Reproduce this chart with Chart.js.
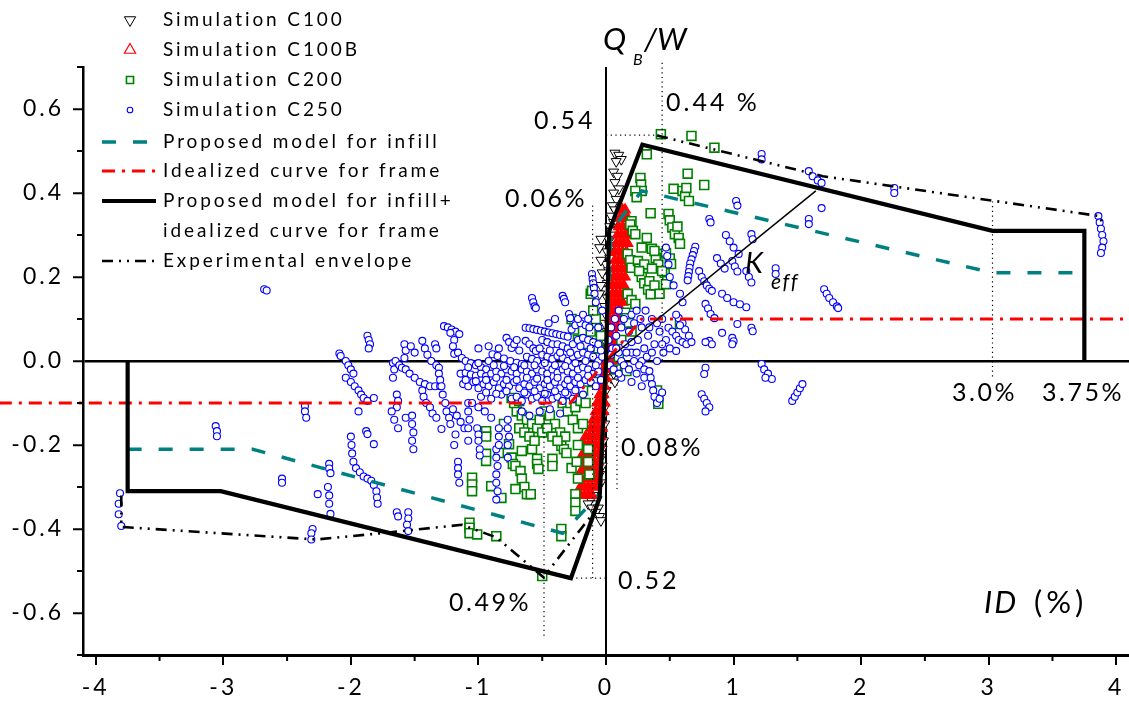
<!DOCTYPE html>
<html><head><meta charset="utf-8">
<script src="https://cdn.jsdelivr.net/npm/chart.js@4.4.0/dist/chart.umd.min.js"></script>
<style>html,body{margin:0;padding:0;background:#fff;}canvas{display:block;}</style>
</head><body>
<canvas id="c" width="1129" height="702"></canvas>
<script>
// ---------------- DATA ----------------
const xTicks = [-4,-3,-2,-1,0,1,2,3,4];
const yTicks = [-0.6,-0.4,-0.2,0,0.2,0.4,0.6];
const xMinor = [-3.5,-2.5,-1.5,-0.5,0.5,1.5,2.5,3.5];
const yMinor = [-0.7,-0.5,-0.3,-0.1,0.1,0.3,0.5,0.7];

// Simulation C250 (blue circles)
const c250 = [
[-3.81,-0.315],[-3.82,-0.34],[-3.82,-0.365],[-3.80,-0.393],
[-3.06,-0.155],[-3.05,-0.167],[-3.05,-0.179],
[-2.68,0.171],[-2.66,0.168],
[-2.54,-0.28],[-2.54,-0.29],
[-2.36,-0.107],[-2.36,-0.12],[-2.35,-0.135],
[-2.30,-0.40],[-2.31,-0.41],[-2.31,-0.425],
[-2.26,-0.317],
[-2.17,-0.245],[-2.17,-0.256],[-2.16,-0.267],
[-2.18,-0.30],[-2.17,-0.32],[-2.17,-0.34],[-2.16,-0.364],
[-2.09,0.018],[-2.08,0.012],
[-2.04,0.0],[-2.02,-0.01],[-2.0,-0.02],[-1.98,-0.03],
[-2.04,-0.04],[-2.0,-0.05],[-1.97,-0.06],[-1.94,-0.07],[-1.92,-0.08],[-1.9,-0.088],[-1.87,-0.095],
[-1.87,0.06],[-1.86,0.05],[-1.85,0.04],[-1.86,0.03],
[-1.82,-0.088],[-1.94,-0.12],[-1.88,-0.167],[-1.87,-0.174],[-1.82,-0.198],
[-2.0,-0.18],[-1.995,-0.2],[-1.99,-0.22],[-1.98,-0.24],[-1.96,-0.255],[-1.93,-0.265],[-1.9,-0.275],[-1.87,-0.28],[-1.84,-0.285],[-1.82,-0.295],[-1.8,-0.31],[-1.795,-0.325],[-1.79,-0.34],
[-1.67,-0.005],[-1.66,-0.02],[-1.67,-0.04],
[-1.65,0.0],[-1.62,-0.01],[-1.6,-0.016],
[-1.58,0.04],[-1.57,0.025],[-1.58,0.007],[-1.53,0.035],[-1.5,0.02],
[-1.64,-0.08],[-1.63,-0.095],[-1.64,-0.11],
[-1.68,-0.12],[-1.66,-0.14],[-1.63,-0.16],
[-1.57,-0.135],
[-1.64,-0.36],[-1.63,-0.37],
[-1.55,-0.36],[-1.55,-0.375],[-1.56,-0.39],[-1.55,-0.405],
[-1.52,-0.13],[-1.52,-0.15],[-1.51,-0.17],[-1.52,-0.19],[-1.51,-0.21],
[-1.57,-0.02],[-1.54,-0.03],[-1.5,-0.04],[-1.46,-0.05],[-1.42,-0.055],[-1.38,-0.06],[-1.34,-0.06],[-1.3,-0.06],
[-1.44,-0.07],[-1.43,-0.085],[-1.41,-0.1],[-1.38,-0.11],[-1.36,-0.125],[-1.33,-0.135],
[-1.44,0.048],[-1.42,0.03],[-1.4,0.015],[-1.37,0.0],[-1.33,-0.01],[-1.31,-0.016],
[-1.34,0.04],[-1.33,0.03],
[-1.27,0.083],[-1.24,0.08],[-1.21,0.075],[-1.18,0.07],[-1.15,0.064],
[-1.22,0.067],[-1.19,0.05],[-1.2,0.035],[-1.19,0.017],[-1.16,0.02],
[-1.31,-0.03],[-1.3,-0.045],[-1.29,-0.06],[-1.28,-0.08],[-1.26,-0.1],[-1.25,-0.12],[-1.23,-0.135],[-1.22,-0.15],
[-1.2,-0.115],[-1.17,-0.13],[-1.14,-0.145],[-1.11,-0.16],
[-1.29,-0.162],[-1.18,-0.175],[-1.19,-0.2],
[-1.16,-0.24],[-1.16,-0.255],[-1.16,-0.27],[-1.15,-0.29],
[-1.08,-0.10],[-1.08,-0.12],[-1.07,-0.14],[-1.08,-0.16],[-1.08,-0.19],
[-1.01,-0.16],[-1.0,-0.175],[-1.0,-0.19],[-0.99,-0.21],[-0.99,-0.225],
[-0.86,-0.21],[-0.86,-0.23],[-0.85,-0.25],[-0.86,-0.27],[-0.86,-0.29],[-0.85,-0.31],[-0.86,-0.33],
[-0.77,-0.14],[-0.77,-0.16],[-0.76,-0.18],[-0.77,-0.2],[-0.77,-0.23],
[-0.84,-0.16],[-0.84,-0.18],[-0.84,-0.2],
[-0.58,0.15],[-0.57,0.14],[-0.56,0.13],[-0.55,0.126],[-0.34,0.155],[-0.33,0.148],[-0.32,0.14],[-0.29,0.112],[-0.28,0.102],
[-0.11,0.207],[-0.105,0.195],[-0.1,0.185],[-0.095,0.174],[-0.09,0.16],[-0.08,0.14],
[-0.63,0.079],[-0.6,0.078],[-0.57,0.076],[-0.54,0.074],[-0.51,0.072],[-0.48,0.07],[-0.45,0.068],[-0.42,0.066],[-0.39,0.064],[-0.36,0.062],[-0.33,0.06],[-0.3,0.058],[-0.27,0.075],[-0.24,0.085],[-0.2,0.09],[-0.16,0.085],[-0.13,0.08],
[-0.78,0.055],[-0.76,0.045],[-0.74,0.031],[-0.72,0.04],[-0.7,0.05],
[-0.63,0.048],[-0.6,0.04],[-0.57,0.03],[-0.55,0.024],
[-0.5,0.05],[-0.46,0.045],[-0.42,0.04],[-0.38,0.04],[-0.34,0.035],[-0.3,0.03],[-0.26,0.04],[-0.22,0.05],[-0.18,0.055],[-0.14,0.05],[-0.1,0.045],[-0.06,0.04],
[-1.13,0.007],[-1.1,0.0],[-1.06,-0.005],[-1.02,-0.01],[-0.98,-0.015],[-0.94,-0.02],[-0.89,0.016],[-0.85,0.012],[-0.8,0.006],[-0.75,0.0],[-0.7,-0.004],[-0.66,-0.007],[-0.62,0.01],[-0.58,0.005],[-0.54,0.0],[-0.5,0.015],[-0.46,0.01],[-0.42,0.005],[-0.38,0.012],[-0.34,0.008],[-0.3,0.0],[-0.26,0.01],[-0.22,0.015],[-0.18,0.02],[-0.14,0.015],[-0.1,0.01],[-0.06,0.0],[-0.03,0.01],
[-1.14,-0.03],[-1.1,-0.028],[-1.06,-0.032],[-1.02,-0.035],[-0.98,-0.03],[-0.94,-0.036],[-0.9,-0.03],[-0.86,-0.025],[-0.82,-0.03],[-0.78,-0.02],[-0.74,-0.025],[-0.7,-0.03],[-0.66,-0.02],[-0.62,-0.025],[-0.58,-0.03],[-0.54,-0.02],[-0.5,-0.025],[-0.46,-0.03],[-0.42,-0.02],[-0.38,-0.028],[-0.34,-0.02],[-0.3,-0.025],[-0.26,-0.03],[-0.22,-0.02],[-0.18,-0.015],[-0.14,-0.02],[-0.1,-0.03],[-0.06,-0.025],
[-1.12,-0.055],[-1.08,-0.06],[-1.04,-0.05],[-1.0,-0.065],[-0.96,-0.055],[-0.92,-0.06],[-0.88,-0.05],[-0.84,-0.065],[-0.8,-0.055],[-0.76,-0.06],[-0.72,-0.05],[-0.68,-0.065],[-0.64,-0.055],[-0.6,-0.06],[-0.56,-0.05],[-0.52,-0.065],[-0.48,-0.055],[-0.44,-0.06],[-0.4,-0.05],[-0.36,-0.065],[-0.32,-0.055],[-0.28,-0.06],[-0.24,-0.05],[-0.2,-0.055],[-0.16,-0.045],[-0.12,-0.05],[-0.08,-0.06],
[-0.98,-0.085],[-0.9,-0.09],[-0.82,-0.08],[-0.74,-0.09],[-0.7,-0.085],[-0.66,-0.095],[-0.62,-0.08],[-0.58,-0.09],[-0.54,-0.085],[-0.5,-0.095],[-0.46,-0.08],[-0.42,-0.09],[-0.38,-0.085],[-0.34,-0.095],[-0.3,-0.08],[-0.26,-0.09],
[-1.05,-0.10],[-1.0,-0.11],[-0.95,-0.12],[-0.9,-0.135],[-0.66,-0.12],[-0.6,-0.13],[-0.52,-0.12],[-0.44,-0.115],[-0.36,-0.125],
[-1.0,0.03],[-0.92,0.035],[-0.84,0.03],[-0.68,0.025],[-0.52,0.03],[-0.44,0.025],[-0.36,0.02],[-0.28,0.02],[-0.2,0.035],[-0.12,0.03],[-0.04,0.025],
[-1.08,-0.015],[-1.0,-0.005],[-0.92,0.0],[-0.88,-0.01],[-0.8,-0.012],[-0.72,-0.015],[-0.64,-0.01],[-0.56,-0.01],[-0.48,-0.005],[-0.4,-0.01],[-0.32,-0.012],[-0.24,-0.005],[-0.16,0.0],[-0.08,-0.01],
[-1.1,-0.045],[-1.02,-0.048],[-0.94,-0.045],[-0.86,-0.04],[-0.78,-0.045],[-0.7,-0.045],[-0.62,-0.04],[-0.54,-0.042],[-0.46,-0.045],[-0.38,-0.04],[-0.3,-0.045],[-0.22,-0.04],[-0.14,-0.035],[-0.04,-0.045],
[-0.94,-0.075],[-0.86,-0.078],[-0.78,-0.072],[-0.64,-0.075],[-0.56,-0.072],[-0.48,-0.078],[-0.4,-0.072],[-0.32,-0.075],[-0.24,-0.07],[-0.18,-0.08],
[-0.22,0.1],[-0.18,0.11],[-0.14,0.1],[-0.06,0.08],[-0.03,0.12],[-0.45,0.09],[-0.4,0.1],
[0.02,0.05],[0.05,0.03],[0.08,0.06],[0.1,0.02],[0.12,0.08],[0.15,0.04],[0.18,0.07],[0.2,0.02],[0.22,0.09],[0.25,0.05],[0.28,0.08],[0.3,0.03],[0.33,0.06],[0.36,0.1],[0.38,0.04],[0.42,0.07],[0.45,0.02],[0.47,0.05],
[0.04,0.08],[0.07,0.1],[0.1,0.12],[0.14,0.1],[0.2,0.11],[0.24,0.12],[0.27,0.1],[0.31,0.12],[0.34,0.08],[0.4,0.09],[0.44,0.1],
[0.04,0.015],[0.08,0.03],[0.12,0.0],[0.16,0.02],[0.2,0.045],[0.24,0.02],[0.28,0.0],[0.32,0.01],[0.36,0.02],[0.4,0.0],[0.44,0.04],[0.5,0.03],
[0.12,-0.04],[0.2,-0.05],[0.24,-0.03],[0.28,-0.06],[0.3,-0.04],
[0.03,-0.01],[0.06,-0.02],[0.1,-0.03],[0.14,-0.01],[0.18,-0.02],[0.22,0.0],[0.26,-0.01],[0.3,-0.02],
[0.34,-0.024],[0.35,-0.04],[0.36,-0.055],[0.37,-0.07],[0.38,-0.085],[0.4,-0.1],[0.42,-0.09],[0.44,-0.075],
[0.49,0.079],[0.52,0.07],[0.55,0.06],[0.57,0.05],[0.6,0.045],[0.63,0.04],[0.55,0.024],
[0.57,0.102],[0.6,0.09],[0.62,0.075],[0.65,0.06],[0.67,0.045],
[0.78,0.136],[0.8,0.125],[0.82,0.112],[0.85,0.102],
[0.81,0.048],[0.83,0.04],[0.78,0.045],
[0.91,0.067],[0.99,0.055],[1.0,0.047],[0.99,0.04],
[0.78,-0.016],[0.77,-0.031],
[1.22,-0.007],[1.24,-0.02],[1.27,-0.03],[1.3,-0.043],[1.25,-0.04],
[1.46,-0.095],[1.48,-0.085],[1.5,-0.075],[1.52,-0.065],[1.54,-0.055],
[0.75,-0.079],[0.77,-0.09],[0.79,-0.1],[0.81,-0.11],[0.78,-0.12],
[1.03,0.088],[1.14,0.079],[1.15,0.071],
[0.91,0.16],[0.95,0.15],[1.0,0.14],[1.05,0.135],[1.1,0.128],
[0.70,0.272],[0.69,0.262],[0.68,0.252],[0.67,0.242],[0.66,0.232],[0.655,0.222],[0.65,0.212],[0.645,0.202],[0.64,0.192],
[0.73,0.214],[0.75,0.2],[0.77,0.19],[0.79,0.18],[0.81,0.172],[0.83,0.167],
[0.87,0.245],[0.9,0.232],[0.93,0.22],
[0.99,0.238],[1.01,0.225],[1.03,0.213],
[1.1,0.214],[1.12,0.2],[1.14,0.187],
[0.94,0.30],[0.97,0.285],[1.0,0.27],[1.04,0.255],
[1.02,0.381],[1.03,0.37],[0.81,0.338],[0.82,0.33],[1.14,0.302],[1.15,0.29],
[1.33,0.221],[1.33,0.207],
[1.22,0.493],[1.22,0.48],
[1.59,0.452],[1.62,0.44],[1.66,0.43],[1.69,0.424],
[1.69,0.364],[1.59,0.338],[1.59,0.326],
[1.71,0.171],[1.73,0.16],[1.75,0.15],[1.78,0.14],[1.81,0.13],[1.82,0.126],
[2.26,0.412],[2.26,0.40],
[3.86,0.345],[3.87,0.33],[3.88,0.315],[3.89,0.3],[3.9,0.285],[3.89,0.27],[3.88,0.257],
[0.47,0.27],[0.48,0.25],[0.49,0.23],
[0.5,0.2],[0.53,0.18],[0.58,0.16],[0.6,0.14],[0.55,0.11],[0.58,0.085]
];

// Simulation C200 (green squares)
const c200 = [
[0.43,0.54],[0.67,0.536],[0.85,0.508],[0.32,0.492],[0.64,0.446],[0.77,0.419],
[0.27,0.436],[0.275,0.42],[0.28,0.405],[0.23,0.405],[0.24,0.39],[0.53,0.41],
[0.6,0.405],[0.62,0.393],[0.65,0.381],[0.63,0.412],
[0.35,0.352],[0.49,0.35],[0.5,0.335],[0.52,0.318],[0.54,0.302],[0.56,0.32],[0.57,0.293],
[0.2,0.333],[0.19,0.325],[0.21,0.31],[0.23,0.302],[0.32,0.293],[0.28,0.27],
[0.17,0.255],[0.19,0.24],[0.2,0.222],[0.25,0.238],[0.26,0.22],[0.28,0.2],[0.3,0.185],[0.33,0.17],[0.35,0.159],
[0.42,0.255],[0.44,0.235],[0.46,0.21],[0.48,0.19],[0.47,0.183],[0.58,0.279],[0.39,0.245],[0.41,0.23],[0.36,0.267],[0.38,0.262],[0.47,0.257],[0.5,0.244],[0.51,0.231],[0.3,0.23],[0.36,0.22],[0.44,0.214],[0.26,0.214],[0.34,0.19],[0.38,0.18],[0.42,0.16],
[0.17,0.16],[0.2,0.145],[0.23,0.136],[0.15,0.115],[0.16,0.102],[0.18,0.09],[0.2,0.07],
[0.58,0.088],[0.41,-0.102],[0.41,-0.085],[0.4,-0.07],[0.16,-0.024],[0.12,0.05],
[0.08,-0.02],[0.1,0.01],
[-0.12,0.16],[-0.11,0.167],[-0.27,0.1],[-0.25,0.075],[-0.22,0.05],[-0.15,0.04],[-0.12,0.07],[-0.08,0.1],[-0.1,0.12],[-0.06,0.03],[-0.04,0.06],
[-0.94,-0.167],[-0.94,-0.18],[-0.8,-0.15],[-0.76,-0.198],[-0.94,-0.221],[-0.94,-0.238],[-0.84,-0.219],
[-1.05,-0.278],[-1.05,-0.294],[-1.05,-0.31],[-0.9,-0.298],[-0.82,-0.326],
[-1.07,-0.385],[-1.07,-0.397],[-1.07,-0.41],[-1.01,-0.413],[-0.86,-0.417],
[-0.74,-0.23],[-0.73,-0.245],[-0.71,-0.25],[-0.66,-0.214],[-0.58,-0.21],
[-0.67,-0.262],[-0.66,-0.28],[-0.64,-0.3],[-0.62,-0.317],[-0.71,-0.305],[-0.59,-0.317],
[-0.54,-0.233],[-0.54,-0.245],[-0.53,-0.257],[-0.42,-0.233],[-0.42,-0.25],
[-0.35,-0.202],[-0.33,-0.21],[-0.31,-0.219],[-0.27,-0.255],
[-0.24,-0.317],[-0.24,-0.337],[-0.24,-0.357],[-0.35,-0.4],[-0.35,-0.417],[-0.5,-0.512],
[-0.7,-0.12],[-0.66,-0.13],[-0.62,-0.14],[-0.58,-0.15],[-0.54,-0.16],[-0.5,-0.17],
[-0.68,-0.16],[-0.64,-0.17],[-0.6,-0.18],[-0.56,-0.19],[-0.52,-0.14],[-0.48,-0.12],
[-0.44,-0.13],[-0.4,-0.15],[-0.36,-0.17],[-0.32,-0.18],[-0.46,-0.16],[-0.42,-0.18],[-0.38,-0.19],
[-0.34,-0.1],[-0.3,-0.12],[-0.26,-0.14],[-0.22,-0.16],[-0.28,-0.1],[-0.24,-0.11],[-0.2,-0.095],
[-0.74,-0.088],[-0.72,-0.1],[-0.68,-0.095],
[-0.18,-0.07],[-0.16,-0.1],[-0.18,-0.15],[-0.14,-0.21],[-0.14,-0.24],[-0.13,-0.27],[-0.1,-0.05],
[-0.22,-0.2],[-0.23,-0.24],[-0.22,-0.28]
];

// Simulation C100B (red up-triangles)
const c100b = [
[-0.2,-0.32],[-0.17,-0.32],[-0.14,-0.32],[-0.11,-0.32],
[-0.2,-0.30],[-0.17,-0.30],[-0.14,-0.30],[-0.11,-0.30],[-0.08,-0.30],
[-0.19,-0.28],[-0.16,-0.28],[-0.13,-0.28],[-0.10,-0.28],[-0.07,-0.28],
[-0.19,-0.26],[-0.16,-0.26],[-0.13,-0.26],[-0.10,-0.26],[-0.07,-0.26],
[-0.18,-0.24],[-0.15,-0.24],[-0.12,-0.24],[-0.09,-0.24],[-0.06,-0.24],
[-0.18,-0.22],[-0.15,-0.22],[-0.12,-0.22],[-0.09,-0.22],[-0.06,-0.22],
[-0.17,-0.20],[-0.14,-0.20],[-0.11,-0.20],[-0.08,-0.20],[-0.05,-0.20],
[-0.16,-0.18],[-0.13,-0.18],[-0.10,-0.18],[-0.07,-0.18],[-0.04,-0.18],
[-0.12,-0.16],[-0.09,-0.16],[-0.06,-0.16],[-0.03,-0.16],
[-0.10,-0.14],[-0.07,-0.14],[-0.04,-0.14],
[-0.08,-0.12],[-0.05,-0.12],[-0.02,-0.12],
[-0.07,-0.10],[-0.04,-0.10],[-0.01,-0.10],
[-0.05,-0.08],[-0.02,-0.08],
[-0.04,-0.06],[-0.01,-0.06],
[-0.03,-0.04],[0.0,-0.04],
[-0.02,-0.02],[0.01,-0.02],
[0.01,0.0],[0.03,0.0],[0.05,0.0],
[0.01,0.02],[0.04,0.02],[0.06,0.02],
[0.02,0.04],[0.05,0.04],[0.07,0.04],
[0.02,0.06],[0.05,0.06],[0.08,0.06],
[0.03,0.08],[0.06,0.08],[0.09,0.08],
[0.03,0.10],[0.06,0.10],[0.09,0.10],[0.12,0.10],
[0.04,0.12],[0.07,0.12],[0.10,0.12],[0.12,0.12],
[0.04,0.14],[0.07,0.14],[0.10,0.14],[0.13,0.14],
[0.05,0.16],[0.08,0.16],[0.11,0.16],[0.14,0.16],
[0.05,0.18],[0.08,0.18],[0.11,0.18],[0.14,0.18],
[0.06,0.20],[0.09,0.20],[0.12,0.20],[0.15,0.20],
[0.06,0.22],[0.09,0.22],[0.12,0.22],[0.15,0.22],
[0.07,0.24],[0.10,0.24],[0.13,0.24],[0.16,0.24],
[0.07,0.26],[0.10,0.26],[0.13,0.26],[0.16,0.26],
[0.08,0.28],[0.11,0.28],[0.14,0.28],[0.17,0.28],
[0.09,0.30],[0.12,0.30],[0.15,0.30],[0.17,0.30],
[0.10,0.32],[0.13,0.32],[0.16,0.32],
[0.11,0.34],[0.14,0.34],[0.17,0.34],
[0.13,0.36],[0.15,0.36]
];

// Simulation C100 (black down-triangles)
const c100 = [
[0.07,0.495],[0.1,0.49],[0.12,0.48],[0.08,0.475],[0.06,0.45],[0.09,0.44],[0.07,0.425],[0.1,0.41],[0.06,0.4],[0.08,0.385],[0.05,0.37],[0.07,0.36],[0.04,0.345],[0.06,0.33],[0.03,0.32],[0.05,0.3],[0.02,0.29],[0.04,0.275],[0.01,0.26],[0.03,0.245],[0.0,0.23],[0.02,0.215],[0.0,0.2],[0.01,0.185],[-0.01,0.17],[0.01,0.15],[-0.01,0.13],[0.0,0.11],[-0.01,0.09],[0.01,0.07],[-0.01,0.05],[0.0,0.03],[0.01,0.01],[-0.01,-0.01],[0.0,-0.03],[-0.01,-0.05],[0.0,-0.07],[-0.02,-0.09],[-0.01,-0.11],[-0.02,-0.13],[-0.01,-0.15],[-0.03,-0.17],[-0.02,-0.19],[-0.03,-0.21],[-0.04,-0.23],[-0.03,-0.25],[-0.05,-0.27],[-0.04,-0.29],[-0.06,-0.3],[-0.08,-0.31],[-0.1,-0.32],[-0.07,-0.33],[-0.12,-0.33],[-0.09,-0.34],[-0.14,-0.34],[-0.11,-0.35],[-0.06,-0.35],[-0.08,-0.36],[-0.05,-0.37],[-0.04,-0.38],
[-0.04,0.29],[-0.05,0.27],[-0.04,0.24],[-0.03,0.21],[-0.04,0.18],[-0.05,0.16],[0.04,-0.04],[0.06,-0.03],[0.07,-0.05]
];

// Model curves
const infillModel   = [[-3.75,-0.21],[-2.77,-0.21],[-0.34,-0.41],[-0.05,-0.317],[0,0],[0.04,0.31],[0.28,0.405],[3.03,0.21],[3.75,0.21]];
const frameCurve    = [[-4.76,-0.1],[-0.28,-0.1],[0.28,0.1],[4.76,0.1]];
const combinedModel = [[-3.75,0],[-3.75,-0.31],[-3.02,-0.31],[-0.275,-0.517],[-0.05,-0.325],[0,0],[0.025,0.31],[0.285,0.515],[3.03,0.31],[3.75,0.31],[3.75,0]];
const envelopeNeg   = [[-3.8,-0.32],[-3.8,-0.395],[-2.27,-0.425],[-1.76,-0.41],[-1.13,-0.39],[-0.86,-0.42],[-0.49,-0.515],[-0.3,-0.44],[-0.12,-0.37]];
const envelopePos   = [[0.4,0.537],[1.7,0.44],[3.87,0.345],[3.9,0.32]];
const kEffLine      = [[0,0],[1.645,0.405]];
// dotted guide lines
const guides = [
  [[-0.105,0.37],[-0.105,-0.517]],
  [[0.086,0.0],[0.086,-0.31]],
  [[-0.486,0.065],[-0.486,-0.66]],
  [[0.44,0.71],[0.44,0.0]],
  [[0,0.538],[0.44,0.538]],
  [[-0.27,-0.517],[0,-0.517]],
  [[3.03,0.38],[3.03,-0.04]]
];

// ---------------- CHART ----------------
const pts = a => a.map(p => ({x:p[0], y:p[1]}));
const FONT = 'Lato, "Open Sans", "Liberation Sans", sans-serif';
Chart.defaults.font.family = FONT;
Chart.defaults.color = '#000';

const lineDs = (label, data, color, width, dash, order, extra) => Object.assign({
  label, data: pts(data), showLine: true, borderColor: color, backgroundColor: color,
  borderWidth: width, borderDash: dash, pointRadius: 0, pointHoverRadius: 0,
  fill: false, tension: 0, order
}, extra || {});

const datasets = [
  lineDs('Experimental envelope', envelopeNeg, '#000', 2.6, [11,6,2,6,2,6], 1),
  lineDs('envPos', envelopePos, '#000', 2.6, [11,6,2,6,2,6], 1),
  lineDs('Proposed model for infill+ idealized curve for frame', combinedModel, '#000', 4.2, [], 2),
  lineDs('K_eff', kEffLine, '#000', 1.5, [], 3),
  lineDs('Proposed model for infill', infillModel, '#008080', 3.5, [14,17], 4),
  lineDs('Idealized curve for frame', frameCurve, '#ff0000', 3, [13,7,3,7], 5, {clip:false}),
  ...guides.map((g,i) => lineDs('guide'+i, g, '#000', 1.2, [1.2,3.5], 6, {clip:false})),
  {label:'Simulation C250', data: pts(c250), pointStyle:'circle', pointRadius:3.5, borderWidth:1.1,
   borderColor:'#0000ff', backgroundColor:'#ffffff', order:10},
  {label:'Simulation C200', data: pts(c200), pointStyle:'rect', pointRadius:6.3, borderWidth:1.6,
   borderColor:'#008000', backgroundColor:'#ffffff', order:11},
  {label:'Simulation C100', data: pts(c100), pointStyle:'triangle', rotation:180, pointRadius:5.8, borderWidth:1,
   borderColor:'#000000', backgroundColor:'#ffffff', order:13},
  {label:'Simulation C100B', data: pts(c100b), pointStyle:'triangle', pointRadius:6, borderWidth:1.2,
   borderColor:'#ff0000', backgroundColor:'#ff0000', order:12}
];

const legendRows = [
  {label:'Simulation C100', ds:'Simulation C100', y:20, marker:true, r:6.5, bg:'#ffffff'},
  {label:'Simulation C100B', ds:'Simulation C100B', y:50, marker:true, r:6.5, bg:'#ffffff'},
  {label:'Simulation C200', ds:'Simulation C200', y:80, marker:true, r:5},
  {label:'Simulation C250', ds:'Simulation C250', y:110, marker:true, r:2.8},
  {label:'Proposed model for infill', ds:'Proposed model for infill', y:142},
  {label:'Idealized curve for frame', ds:'Idealized curve for frame', y:171},
  {label:'Proposed model for infill+', ds:'Proposed model for infill+ idealized curve for frame', y:201, second:'idealized curve for frame'},
  {label:'Experimental envelope', ds:'Experimental envelope', y:261}
];

function txt(ctx, s, x, y, font, sp, align, base) {
  ctx.font = font; ctx.letterSpacing = sp + 'px';
  ctx.textAlign = align || 'left'; ctx.textBaseline = base || 'middle';
  ctx.fillStyle = '#000'; ctx.fillText(s, x, y);
}

const overlay = {
  id: 'overlay',
  beforeDraw(chart) { chart.ctx.letterSpacing = '3px'; },
  afterDraw(chart) {
    const ctx = chart.ctx, xs = chart.scales.x, ys = chart.scales.y;
    ctx.save();
    ctx.strokeStyle = '#000'; ctx.lineWidth = 2; ctx.setLineDash([]);
    xMinor.forEach(v => { const p = xs.getPixelForValue(v); ctx.beginPath(); ctx.moveTo(p, ys.bottom); ctx.lineTo(p, ys.bottom + 6); ctx.stroke(); });
    yMinor.forEach(v => { const p = ys.getPixelForValue(v); ctx.beginPath(); ctx.moveTo(xs.left - 6, p); ctx.lineTo(xs.left, p); ctx.stroke(); });

    legendRows.forEach(row => {
      const ds = chart.data.datasets.find(d => d.label === row.ds);
      ctx.save();
      if (row.marker) {
        ctx.strokeStyle = ds.borderColor; ctx.fillStyle = row.bg || ds.backgroundColor;
        ctx.lineWidth = ds.borderWidth; ctx.setLineDash([]);
        Chart.helpers.drawPoint(ctx, {pointStyle: ds.pointStyle, radius: row.r, rotation: ds.rotation || 0, borderWidth: ds.borderWidth}, 130, row.y);
      } else {
        ctx.strokeStyle = ds.borderColor; ctx.lineWidth = ds.borderWidth;
        ctx.setLineDash(ds.borderDash || []);
        ctx.beginPath(); ctx.moveTo(102, row.y); ctx.lineTo(156, row.y); ctx.stroke();
      }
      ctx.restore();
      txt(ctx, row.label, 163, row.y, '19px ' + FONT, 2.9);
      if (row.second) txt(ctx, row.second, 163, row.y + 30, '19px ' + FONT, 2.9);
    });

    const F = '25px ' + FONT;
    txt(ctx, '0.54', 534, 121, F, 3);
    txt(ctx, '0.44 %', 666, 103, F, 3);
    txt(ctx, '0.06%', 505, 199, F, 2.5);
    txt(ctx, '0.08%', 621, 448, F, 2.5);
    txt(ctx, '0.52', 618, 581, F, 3);
    txt(ctx, '0.49%', 449, 603, F, 2.5);
    txt(ctx, '3.0%', 952, 393, F, 2.5);
    txt(ctx, '3.75%', 1042, 393, F, 2.5);

    txt(ctx, 'Q', 603, 50, 'italic 31px ' + FONT, 0, 'left', 'alphabetic');
    txt(ctx, 'B', 633, 65, 'italic 16px ' + FONT, 0, 'left', 'alphabetic');
    txt(ctx, '/W', 644, 50, 'italic 31px ' + FONT, 0, 'left', 'alphabetic');
    txt(ctx, 'ID', 984, 613, 'italic 31px ' + FONT, 2, 'left', 'alphabetic');
    txt(ctx, '(%)', 1034, 613, '31px ' + FONT, 4, 'left', 'alphabetic');
    txt(ctx, 'K', 745, 273, 'italic 29px ' + FONT, 0, 'left', 'alphabetic');
    txt(ctx, 'eff', 771, 289, 'italic 21px ' + FONT, 1.5, 'left', 'alphabetic');
    ctx.restore();
  }
};

new Chart(document.getElementById('c'), {
  type: 'scatter',
  data: { datasets },
  options: {
    responsive: false, animation: false, devicePixelRatio: 1,
    layout: { autoPadding: false, padding: { top: 67, right: 0, bottom: 0, left: 0 } },
    plugins: { legend: { display: false }, tooltip: { enabled: false } },
    elements: { line: { borderCapStyle: 'butt' } },
    scales: {
      x: {
        type: 'linear', min: -4.1, max: 4.1,
        afterFit(s) { s.height = 47; s.paddingLeft = 0; s.paddingRight = 0; },
        afterBuildTicks(s) { s.ticks = xTicks.map(v => ({value: v})); },
        ticks: { autoSkip: false, maxRotation: 0, padding: 9, font: { size: 23 }, color: '#000', callback: v => String(v) },
        grid: { drawOnChartArea: true, drawTicks: true, tickLength: 10, tickWidth: 2, tickColor: '#000',
                color: c => (c.tick && c.tick.value === 0) ? '#000' : 'rgba(0,0,0,0)', lineWidth: 2 },
        border: { display: true, color: '#000', width: 3 }
      },
      y: {
        type: 'linear', min: -0.7, max: 0.7,
        afterFit(s) { s.width = 83; s.paddingTop = 0; s.paddingBottom = 0; },
        afterBuildTicks(s) { s.ticks = yTicks.map(v => ({value: v})); },
        ticks: { autoSkip: false, padding: 9, font: { size: 23 }, color: '#000', callback: v => Number(v).toFixed(1) },
        grid: { drawOnChartArea: true, drawTicks: true, tickLength: 10, tickWidth: 2, tickColor: '#000',
                color: c => (c.tick && c.tick.value === 0) ? '#000' : 'rgba(0,0,0,0)', lineWidth: 2.5 },
        border: { display: true, color: '#000', width: 2.5 }
      }
    }
  },
  plugins: [overlay]
});
</script>
</body></html>
